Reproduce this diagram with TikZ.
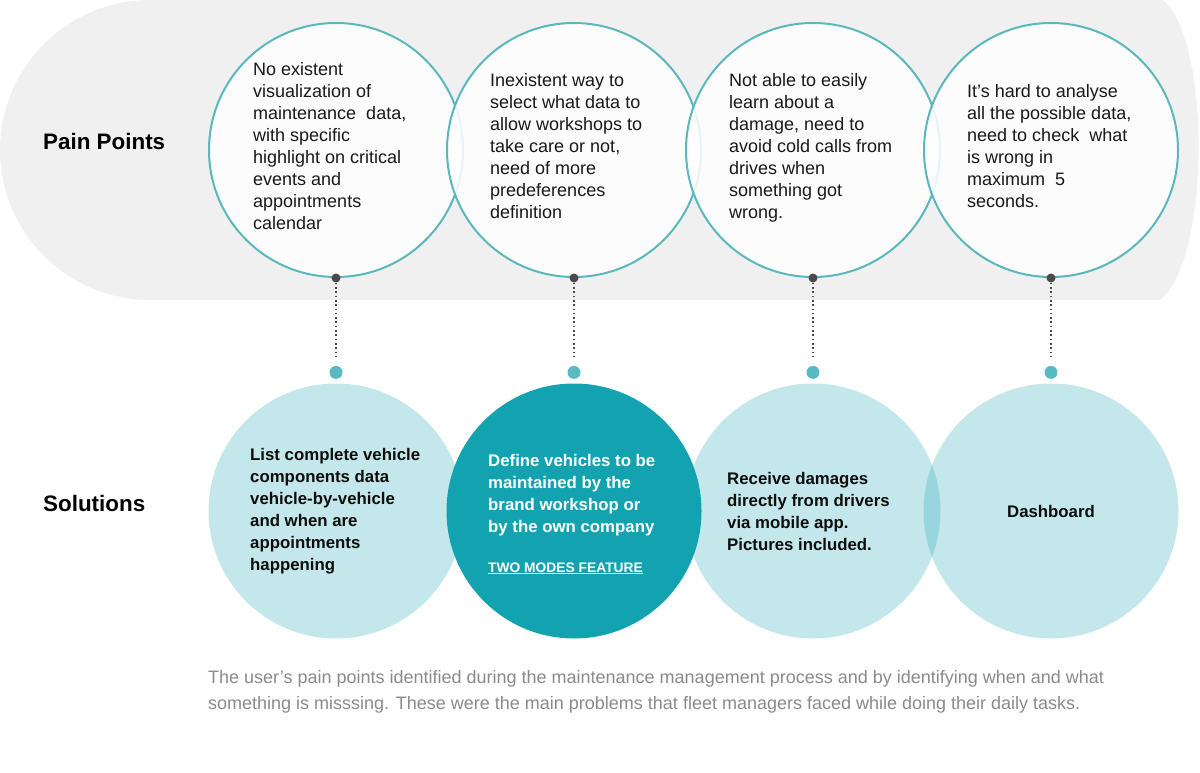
\documentclass[tikz,border=0pt]{standalone}
\usepackage{fontspec}
\setmainfont{Liberation Sans}
\usepackage{tikz}
\usetikzlibrary{positioning}
\usepackage{xcolor}
\definecolor{bggray}{HTML}{F0F0F0}
\definecolor{ringteal}{HTML}{5AB8BD}
\definecolor{solteal}{HTML}{15A0AF}
\definecolor{darkteal}{HTML}{13A2B0}
\definecolor{dotgray}{HTML}{4A4A4A}
\definecolor{dotteal}{HTML}{58BBC2}
\definecolor{capgray}{HTML}{8A8A8A}

\begin{document}
\begin{tikzpicture}[x=1pt,y=-1pt,
  pain/.style={circle,draw=ringteal,line width=2pt,fill=white,fill opacity=0.85,minimum size=254pt,inner sep=0pt},
  paintxt/.style={anchor=west,align=left,inner sep=0pt,text=black!90,font=\fontsize{18}{22}\selectfont},
  sol/.style={circle,fill=solteal,fill opacity=0.25,minimum size=255pt,inner sep=0pt},
  solmain/.style={circle,fill=darkteal,minimum size=255pt,inner sep=0pt},
  soltxt/.style={anchor=west,align=left,inner sep=0pt,text=black!95,font=\fontsize{16.8}{22}\selectfont\bfseries},
  head/.style={anchor=west,inner sep=0pt,font=\fontsize{22.4}{26}\selectfont\bfseries},
  pdot/.style={circle,fill=dotgray,inner sep=0pt,minimum size=9pt},
  sdot/.style={circle,fill=dotteal,inner sep=0pt,minimum size=13pt},
  link/.style={dotgray,line width=1.7pt,dash pattern=on 1.6pt off 2.7pt,shorten >=7pt}]
\useasboundingbox (0,0) rectangle (1200,773);
\fill[bggray] (1163,0) .. controls (1211,40) and (1211,260) .. (1160,300) -- (150,300)
  arc[start angle=90,end angle=270,radius=150] -- cycle;

\node[head] (painlbl) at (43,141) {Pain Points};
\node[head] (sollbl) at (43,503) {Solutions};

% pain point rings
\node[pain] (pain1) at (336,150) {};
\node[pain] (pain2) at (574,150) {};
\node[pain] (pain3) at (813,150) {};
\node[pain] (pain4) at (1051,150) {};
\node[paintxt] (pain1txt) at ([xshift=-83pt,yshift=4pt]pain1.center) {No existent\\visualization of\\maintenance~ data,\\with specific\\highlight on critical\\events and\\appointments\\calendar};
\node[paintxt] (pain2txt) at ([xshift=-84pt,yshift=4pt]pain2.center) {Inexistent way to\\select what data to\\allow workshops to\\take care or not,\\need of more\\predeferences\\definition};
\node[paintxt] (pain3txt) at ([xshift=-84pt,yshift=2pt]pain3.center) {Not able to easily\\learn about a\\damage, need to\\avoid cold calls from\\drives when\\something got\\wrong.};
\node[paintxt] (pain4txt) at ([xshift=-84pt,yshift=4pt]pain4.center) {It’s hard to analyse\\all the possible data,\\need to check~ what\\is wrong in\\maximum~ 5\\seconds.};

% solutions
\node[sol] (sol1) at (336,511) {};
\node[sol] (sol3) at (813,511) {};
\node[sol] (sol4) at (1051,511) {};
\node[solmain] (sol2) at (574,511) {};
\node[soltxt] (sol1txt) at ([xshift=-86pt]sol1.center) {List complete vehicle\\components data\\vehicle-by-vehicle\\and when are\\appointments\\happening};
\node[soltxt,text=white] (sol2txt) at ([xshift=-86pt,yshift=-3pt]sol2.center) {Define vehicles to be\\maintained by the\\brand workshop or\\by the own company\\[18pt]{\fontsize{13.8}{16}\selectfont\underline{TWO MODES FEATURE}}};
\node[soltxt] (sol3txt) at ([xshift=-86pt]sol3.center) {Receive damages\\directly from drivers\\via mobile app.\\Pictures included.};
\node[soltxt,anchor=center] (sol4txt) at (sol4.center) {Dashboard};

% links
\node[pdot] (pd1) at (pain1.south) {};
\node[pdot] (pd2) at (pain2.south) {};
\node[pdot] (pd3) at (pain3.south) {};
\node[pdot] (pd4) at (pain4.south) {};
\node[sdot,below=83pt of pd1] (sd1) {};
\node[sdot,below=83pt of pd2] (sd2) {};
\node[sdot,below=83pt of pd3] (sd3) {};
\node[sdot,below=83pt of pd4] (sd4) {};
\draw[link] (pd1) -- (sd1);
\draw[link] (pd2) -- (sd2);
\draw[link] (pd3) -- (sd3);
\draw[link] (pd4) -- (sd4);

\node[anchor=north west,align=left,inner sep=0pt,text=capgray,font=\fontsize{18}{26}\selectfont] (note) at (208,670) {The user’s pain points identified during the maintenance management process and by identifying when and what\\something is misssing. These were the main problems that fleet managers faced while doing their daily tasks.};
\end{tikzpicture}
\end{document}
